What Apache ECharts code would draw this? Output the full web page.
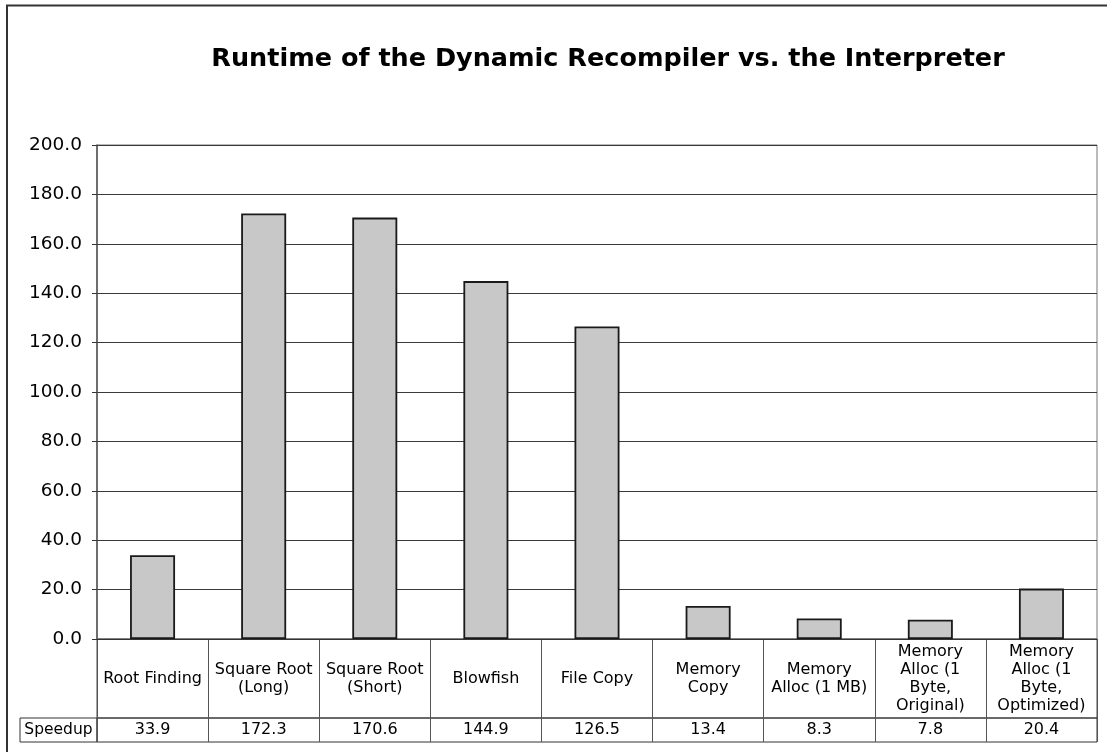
<!DOCTYPE html>
<html>
<head>
<meta charset="utf-8">
<script src="https://cdn.jsdelivr.net/npm/echarts@6/dist/echarts.min.js"></script>
<style>
  html, body { margin: 0; padding: 0; background: #fff; }
  #chart { width: 1107px; height: 752px; }
</style>
</head>
<body>
<div id="chart"></div>
<script>
// Benchmarks and their speedup of the dynamic recompiler over the interpreter
const categories = [
  'Root Finding',
  'Square Root\n(Long)',
  'Square Root\n(Short)',
  'Blowfish',
  'File Copy',
  'Memory\nCopy',
  'Memory\nAlloc (1 MB)',
  'Memory\nAlloc (1\nByte,\nOriginal)',
  'Memory\nAlloc (1\nByte,\nOptimized)'
];
const speedup = [33.9, 172.3, 170.6, 144.9, 126.5, 13.4, 8.3, 7.8, 20.4];
const rowLabel = ['Speedup'];
const yTicks = { min: 0, max: 200, step: 20 };

const FONT = '"DejaVu Sans", Verdana, sans-serif';
const hiddenY = (gridIndex) => ({
  type: 'value', gridIndex, show: false, min: 0, max: 1
});

const chart = echarts.init(document.getElementById('chart'), null, { renderer: 'canvas' });

chart.setOption({
  animation: false,
  backgroundColor: '#ffffff',
  textStyle: { fontFamily: FONT },
  title: {
    text: 'Runtime of the Dynamic Recompiler vs. the Interpreter',
    left: 603,
    textAlign: 'center',
    top: 41,
    textStyle: { fontFamily: FONT, fontWeight: 'bold', fontSize: 25.5, color: '#000' }
  },
  grid: [
    // plot area
    { left: 97, right: 10, top: 145, height: 494, show: true, borderColor: '#777', borderWidth: 1, containLabel: false },
    // category label row of the data table
    { left: 97, right: 10, top: 639, height: 79, show: true, borderColor: '#444', borderWidth: 1 },
    // value row of the data table
    { left: 97, right: 10, top: 718, height: 24, show: true, borderColor: '#333', borderWidth: 1 },
    // row header cell
    { left: 20, width: 77, top: 718, height: 24, show: true, borderColor: '#333', borderWidth: 1 }
  ],
  xAxis: [
    {
      type: 'category', gridIndex: 0, data: categories,
      axisLine: { show: true, lineStyle: { color: '#333', width: 1 } },
      axisTick: { show: false },
      axisLabel: { show: false }
    },
    {
      type: 'category', gridIndex: 1, data: categories,
      axisLine: { show: false },
      axisTick: { show: false },
      splitLine: { show: true, interval: 0, lineStyle: { color: '#555', width: 1 } },
      axisLabel: {
        interval: 0, inside: true, margin: 39.5, verticalAlign: 'middle',
        fontFamily: FONT, fontSize: 16, lineHeight: 18, color: '#000', align: 'center'
      }
    },
    {
      type: 'category', gridIndex: 2, data: categories,
      axisLine: { show: false },
      axisTick: { show: false },
      splitLine: { show: true, interval: 0, lineStyle: { color: '#555', width: 1 } },
      axisLabel: {
        interval: 0, inside: true, margin: 12, verticalAlign: 'middle',
        fontFamily: FONT, fontSize: 16, color: '#000',
        formatter: (v, i) => speedup[i].toFixed(1)
      }
    },
    {
      type: 'category', gridIndex: 3, data: rowLabel,
      axisLine: { show: false },
      axisTick: { show: false },
      axisLabel: {
        interval: 0, inside: true, margin: 12, verticalAlign: 'middle',
        fontFamily: FONT, fontSize: 15.5, color: '#000'
      }
    }
  ],
  yAxis: [
    {
      type: 'value', gridIndex: 0,
      min: yTicks.min, max: yTicks.max, interval: yTicks.step,
      axisLine: { show: true, lineStyle: { color: '#555', width: 1.5 } },
      axisTick: { show: true, length: 5, lineStyle: { color: '#333' } },
      axisLabel: {
        margin: 15, fontFamily: FONT, fontSize: 18.5, color: '#000',
        formatter: (v) => v.toFixed(1)
      },
      splitLine: { show: true, lineStyle: { color: '#3a3a3a', width: 1 } }
    },
    hiddenY(1), hiddenY(2), hiddenY(3)
  ],
  series: [
    {
      type: 'bar',
      xAxisIndex: 0, yAxisIndex: 0,
      data: speedup,
      barWidth: '40.5%',
      itemStyle: { color: '#c8c8c8', borderColor: '#1a1a1a', borderWidth: 1.8 }
    }
  ],
  graphic: [
    {
      // chart frame (top and left edges)
      type: 'polyline',
      shape: { points: [[7, 752], [7, 5.5], [1107, 5.5]] },
      style: { stroke: '#333', lineWidth: 2, fill: null },
      silent: true
    }
  ]
});
</script>
</body>
</html>
